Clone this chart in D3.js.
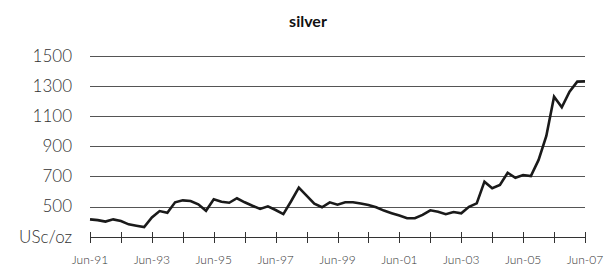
<!DOCTYPE html>
<html><head><meta charset="utf-8">
<script src="https://cdn.jsdelivr.net/npm/d3@7"></script>
<style>body{margin:0;background:#fff}svg{display:block}</style>
</head><body><svg id="c" width="608" height="271"></svg>
<script>
const title = "silver";
const unitLabel = "USc/oz";
const startYear = 1991.5; // Jun-91, quarterly data
const values = [415,410,400,415,404,382,373,364,428,470,459,528,541,537,515,472,
  548,532,525,555,528,505,484,501,477,450,535,625,572,519,495,528,
  512,528,528,520,510,495,473,456,440,422,422,445,475,466,449,464,
  455,498,521,665,621,643,724,691,709,702,809,968,1228,1158,1262,1328,1330];
const yTicks = [500,700,900,1100,1300,1500];
const xTickYears = d3.range(1991,2008);
const xLabelYears = [1991,1993,1995,1997,1999,2001,2003,2005,2007];

const svg = d3.select("#c");
const x = d3.scaleLinear().domain([1991.5,2007.5]).range([90,585]);
const y = d3.scaleLinear().domain([300,1500]).range([236.7,55.7]);
const data = values.map((v,i)=>({t:startYear+i*0.25,v}));

svg.append("text").attr("x",308).attr("y",27).attr("text-anchor","middle")
  .attr("font-family","Lato, 'Noto Sans', sans-serif").attr("font-weight","bold")
  .attr("font-size",16).attr("fill","#111").text(title);

// gridlines
svg.append("g").selectAll("line").data(yTicks).join("line")
  .attr("x1",90).attr("x2",585)
  .attr("y1",d=>Math.round(y(d))+0.5).attr("y2",d=>Math.round(y(d))+0.5)
  .attr("stroke","#555").attr("stroke-width",1);

// y labels
const lab = svg.append("g").attr("font-family","Lato, 'Noto Sans', sans-serif")
  .attr("font-weight",300).attr("font-size",17).attr("fill","#333").attr("text-anchor","end");
lab.selectAll("text").data(yTicks).join("text")
  .attr("x",72).attr("y",d=>y(d)).attr("dy","0.35em").text(d=>d);
lab.append("text").attr("x",72).attr("y",y(300)).attr("dy","0.35em").text(unitLabel);

// x axis
const ax = svg.append("g");
ax.append("line").attr("x1",90).attr("x2",585).attr("y1",237.5).attr("y2",237.5)
  .attr("stroke","#333").attr("stroke-width",1);
ax.selectAll("line.t").data(xTickYears).join("line").attr("class","t")
  .attr("x1",d=>Math.round(x(d+0.5))+0.5).attr("x2",d=>Math.round(x(d+0.5))+0.5)
  .attr("y1",232).attr("y2",243).attr("stroke","#333");
ax.selectAll("text").data(xLabelYears).join("text")
  .attr("x",d=>x(d+0.5)).attr("y",264).attr("text-anchor","middle")
  .attr("font-family","Lato, 'Noto Sans', sans-serif").attr("font-weight",300)
  .attr("font-size",12).attr("fill","#333")
  .text(d=>"Jun-"+String(d%100).padStart(2,"0"));

// line
svg.append("path").datum(data)
  .attr("d",d3.line().x(d=>x(d.t)).y(d=>y(d.v)))
  .attr("fill","none").attr("stroke","#1a1a1a").attr("stroke-width",2.6)
  .attr("stroke-linejoin","miter");
</script></body></html>
